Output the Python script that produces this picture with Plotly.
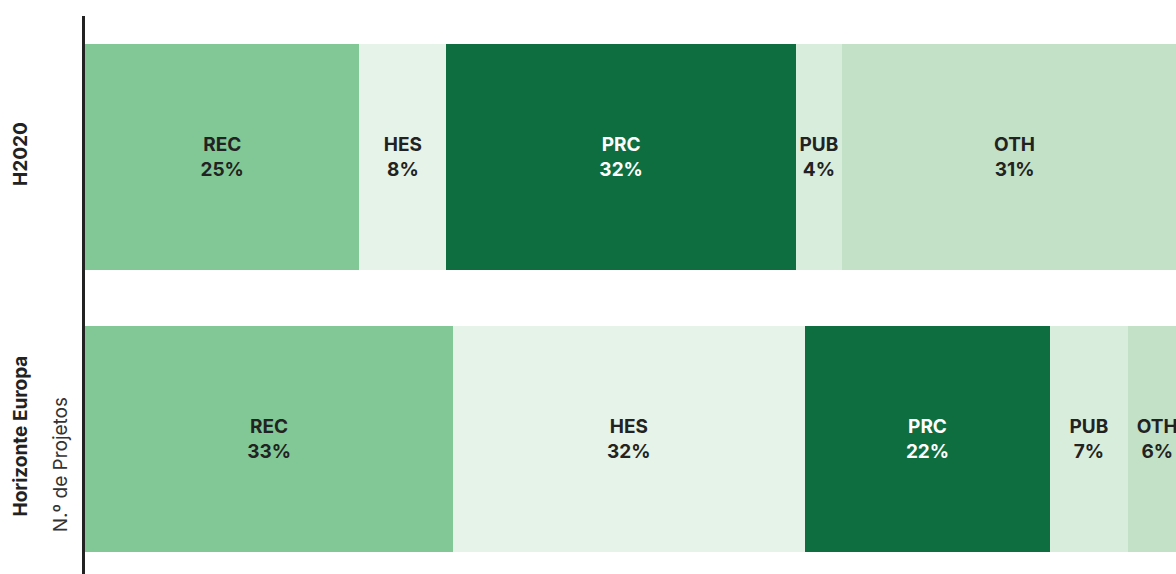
import plotly.graph_objects as go

# share of projects by participant type (%)
programmes = ["H2020", "Horizonte Europa"]
types = ["REC", "HES", "PRC", "PUB", "OTH"]
h2020 = [24.9, 7.9, 31.7, 4.2, 31.3]
horizonte = [33.4, 31.9, 22.3, 7.0, 5.4]
h2020_lbl = ["25%", "8%", "32%", "4%", "31%"]
horizonte_lbl = ["33%", "32%", "22%", "7%", "6%"]

colors = ["#82c896", "#e5f3e8", "#0e6e3f", "#d8eddb", "#c2e1c7"]
text_colors = ["#222222", "#222222", "#ffffff", "#222222", "#222222"]

fig = go.Figure()
for i, t in enumerate(types):
    fig.add_trace(go.Bar(
        y=programmes,
        x=[h2020[i], horizonte[i]],
        orientation="h",
        name=t,
        marker=dict(color=colors[i], line=dict(width=0)),
        text=[t + "<br>" + h2020_lbl[i], t + "<br>" + horizonte_lbl[i]],
        textposition="inside",
        insidetextanchor="middle",
        textangle=0,
        constraintext="none",
        textfont=dict(family="Inter", size=19, color=text_colors[i], weight="bold"),
        hoverinfo="skip",
    ))

fig.update_layout(
    barmode="stack",
    bargap=0.2,
    width=1176,
    height=574,
    margin=dict(l=85, r=0, t=16, b=0),
    paper_bgcolor="white",
    plot_bgcolor="white",
    showlegend=False,
    font=dict(family="Inter", color="#222222"),
    xaxis=dict(range=[0, 99.0], visible=False),
    yaxis=dict(
        range=[1.479, -0.5],
        showline=True,
        linecolor="#222222",
        linewidth=3,
        ticks="",
        tickangle=-90,
        ticklabelstandoff=47,
        tickfont=dict(family="Inter", size=19, color="#222222", weight="bold"),
        showgrid=False,
        zeroline=False,
    ),
    annotations=[dict(
        text="N.º de Projetos",
        xref="paper", yref="paper",
        x=0, y=0.195,
        xanchor="center", yanchor="middle",
        xshift=-25,
        textangle=-90,
        showarrow=False,
        font=dict(family="Inter", size=19, color="#333333"),
    )],
)

# drop the default body margin so the figure fills the window exactly
fig.write_html("out.html", config={"displayModeBar": False},
               post_script="document.body.style.margin='0';")
